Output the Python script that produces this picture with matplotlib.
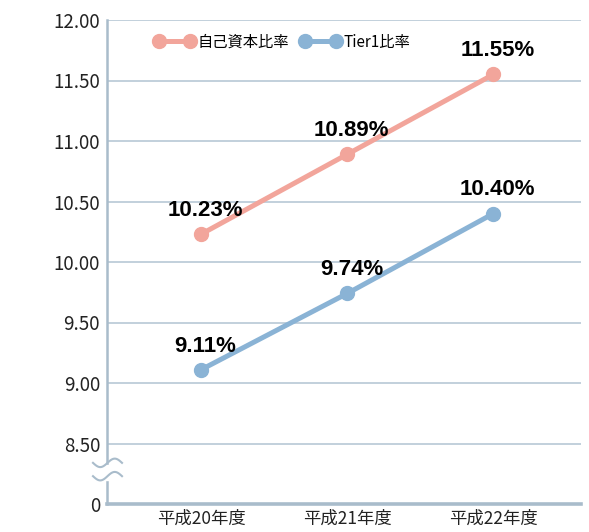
import numpy as np
import matplotlib.pyplot as plt
import matplotlib.transforms as mtransforms

years = ['平成20年度', '平成21年度', '平成22年度']
capital_ratio = [10.23, 10.89, 11.55]
tier1_ratio = [9.11, 9.74, 10.40]
ytick_vals = [8.0, 8.5, 9.0, 9.5, 10.0, 10.5, 11.0, 11.5, 12.0]
ytick_labels = ['0', '8.50', '9.00', '9.50', '10.00', '10.50', '11.00', '11.50', '12.00']

pink = '#f2a59b'
blue = '#8ab3d5'
axis_col = '#a9bccb'
jp = ['Noto Sans CJK JP', 'DejaVu Sans']

fig = plt.figure(figsize=(5.89, 5.32), dpi=100)
ax = fig.add_axes([107/589, 1-504/532, (581-107)/589, (504-20)/532])

x = np.arange(len(years))
ax.plot(x, capital_ratio, '-o', color=pink, lw=3.6, ms=10, label='自己資本比率', zorder=3)
ax.plot(x, tier1_ratio, '-o', color=blue, lw=3.6, ms=10, label='Tier1比率', zorder=3)

for xs, ys in [(x, capital_ratio), (x, tier1_ratio)]:
    for xi, yi in zip(xs, ys):
        ax.annotate('%.2f%%' % yi, (xi, yi), xytext=(3, 17), textcoords='offset points',
                    ha='center', va='center', fontsize=16, fontweight='bold',
                    family='Liberation Sans', color='black')

ax.set_xlim(-0.644, 2.60)
ax.set_ylim(8.0, 12.0)
ax.set_yticks(ytick_vals)
ax.set_yticklabels(ytick_labels, family=jp, fontsize=13.5, color='#222222')
ax.set_xticks(x)
ax.set_xticklabels(years, family=jp, fontsize=12.5, color='#222222')
ax.tick_params(length=0, pad=5)
ax.tick_params(axis='x', pad=4)

for v in ytick_vals[1:]:
    ax.axhline(v, color='#b7c8d5', lw=1.2, zorder=1)

for s in ['top', 'right']:
    ax.spines[s].set_visible(False)
ax.spines['left'].set_color(axis_col)
ax.spines['left'].set_linewidth(1.8)
ax.spines['bottom'].set_color(axis_col)
ax.spines['bottom'].set_linewidth(2.6)

# axis break mark
trans = mtransforms.blended_transform_factory(ax.transAxes, ax.transData)
ax.fill_between([-0.01, 0.01], 8.2, 8.32, color='white', transform=trans, zorder=4, clip_on=False)
bx = np.linspace(-14, 15, 60) / 474
for yc in [8.34, 8.23]:
    by = yc + 0.035 * np.sin((bx * 474 + 14) / 29 * 2 * np.pi + np.pi)
    ax.plot(bx, by, color=axis_col, lw=1.5, transform=trans, clip_on=False, zorder=5)

leg = ax.legend(loc='upper center', bbox_to_anchor=(0.37, 1.0), ncol=2, frameon=False,
                numpoints=2, handlelength=2.6, handletextpad=0.2, columnspacing=0.8,
                prop={'family': jp, 'size': 11})

fig.savefig('out.png', dpi=100)
